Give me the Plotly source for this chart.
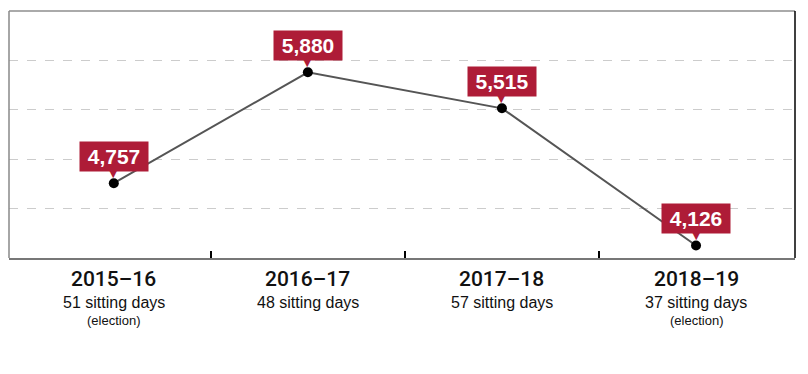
import plotly.graph_objects as go

years = ["2015–16", "2016–17", "2017–18", "2018–19"]
sitting_days = ["51 sitting days", "48 sitting days", "57 sitting days", "37 sitting days"]
notes = ["(election)", "", "", "(election)"]
values = [4757, 5880, 5515, 4126]
value_labels = ["4,757", "5,880", "5,515", "4,126"]

xs = list(range(len(years)))
RED = "#AE1C37"
FONT = "Liberation Sans, Arial, sans-serif"

fig = go.Figure()
fig.add_trace(go.Scatter(
    x=xs, y=values, mode="lines+markers",
    line=dict(color="#555555", width=2),
    marker=dict(color="black", size=10),
    hoverinfo="skip", showlegend=False,
))

annotations = []
for x, v, lab in zip(xs, values, value_labels):
    annotations.append(dict(
        x=x, y=v, xref="x", yref="y", text="<b>%s</b>" % lab, showarrow=False,
        yshift=27, bgcolor=RED, width=68, height=29, borderpad=0,
        font=dict(family=FONT, size=21, color="white"),
    ))
    annotations.append(dict(
        x=x, y=v, xref="x", yref="y", text="▼", showarrow=False,
        yshift=10, font=dict(family="DejaVu Sans", size=11, color=RED),
    ))
for x, yr, sd, nt in zip(xs, years, sitting_days, notes):
    annotations.append(dict(
        x=x, y=0, xref="x", yref="paper", text=yr, showarrow=False,
        yanchor="middle", yshift=-21,
        font=dict(family="Roboto, sans-serif", size=21, color="#111111", weight=500),
    ))
    annotations.append(dict(
        x=x, y=0, xref="x", yref="paper", text=sd, showarrow=False,
        yanchor="middle", yshift=-44,
        font=dict(family=FONT, size=16, color="#111111"),
    ))
    if nt:
        annotations.append(dict(
            x=x, y=0, xref="x", yref="paper", text=nt, showarrow=False,
            yanchor="middle", yshift=-62,
            font=dict(family=FONT, size=13, color="#111111"),
        ))

shapes = [
    dict(type="line", xref="paper", yref="paper", x0=0, x1=1, y0=1, y1=1,
         line=dict(color="#aaaaaa", width=2)),
    dict(type="line", xref="paper", yref="paper", x0=0, x1=0, y0=0, y1=1,
         line=dict(color="#888888", width=1.5)),
    dict(type="line", xref="paper", yref="paper", x0=1, x1=1, y0=0, y1=1,
         line=dict(color="#000000", width=1.5)),
]

fig.update_layout(
    width=800, height=366,
    margin=dict(l=1, r=13, t=3, b=116),
    plot_bgcolor="white", paper_bgcolor="white",
    annotations=annotations, shapes=shapes,
    xaxis=dict(range=[-0.54, 3.51], showgrid=False, zeroline=False,
               tickvals=[0.5, 1.5, 2.5], ticks="inside", ticklen=7,
               tickwidth=2, tickcolor="black", showticklabels=False,
               showline=True, linecolor="#777777", linewidth=2),
    yaxis=dict(range=[4000, 6500], tickvals=[4500, 5000, 5500, 6000],
               showgrid=True, gridcolor="#cccccc", griddash="dash", gridwidth=1,
               showticklabels=False, zeroline=False, ticks=""),
)

fig.write_html("out.html")
